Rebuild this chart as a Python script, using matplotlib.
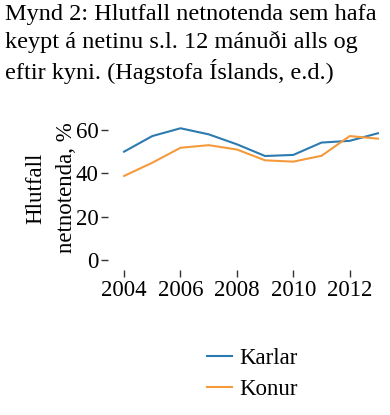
import matplotlib
matplotlib.use("Agg")
import matplotlib.pyplot as plt

years = [2004, 2005, 2006, 2007, 2008, 2009, 2010, 2011, 2012, 2013]
karlar = [50.0, 57.2, 60.8, 58.0, 53.4, 48.0, 48.5, 54.2, 55.0, 58.5]
konur = [38.8, 44.9, 51.8, 53.0, 51.0, 46.0, 45.4, 48.1, 57.2, 56.0]
xticks = [2004, 2006, 2008, 2010, 2012]
yticks = [0, 20, 40, 60]
title = "Mynd 2: Hlutfall netnotenda sem hafa\nkeypt á netinu s.l. 12 mánuði alls og\neftir kyni. (Hagstofa Íslands, e.d.)"

plt.rcParams["font.family"] = "serif"
plt.rcParams["font.serif"] = ["Liberation Serif", "DejaVu Serif"]

fig = plt.figure(figsize=(3.9, 4.15), dpi=100)
ax = fig.add_axes([108/390, (415-270)/415, (383-108)/390, (270-123.5)/415])

ax.plot(years, karlar, color="#2b7bb0", lw=1.5, label="Karlar")
ax.plot(years, konur, color="#f59a3c", lw=1.5, label="Konur")

ax.set_xlim(2003.43, 2013.18)
ax.set_ylim(-4.6, 63)
ax.set_xticks(xticks)
ax.set_yticks(yticks)
for s in ax.spines.values():
    s.set_visible(False)
ax.tick_params(axis="both", labelsize=16.5, length=5, width=1.0, color="#333333", pad=2)
ax.set_ylabel("Hlutfall\nnetnotenda, %", fontsize=16.5, linespacing=1.6, family="serif")
ax.yaxis.set_label_coords(-0.113, 0.56)

fig.text(5/390, 1-4/415, title, ha="left", va="top", fontsize=17.5,
         linespacing=1.32, family="serif")

leg = fig.legend(loc="center left", bbox_to_anchor=(198/390, 1-374/415), frameon=False,
                 handlelength=1.1, handletextpad=0.3, labelspacing=0.45,
                 borderaxespad=0, prop={"family": "serif", "size": 16.5})

fig.savefig("out.png", dpi=100)
